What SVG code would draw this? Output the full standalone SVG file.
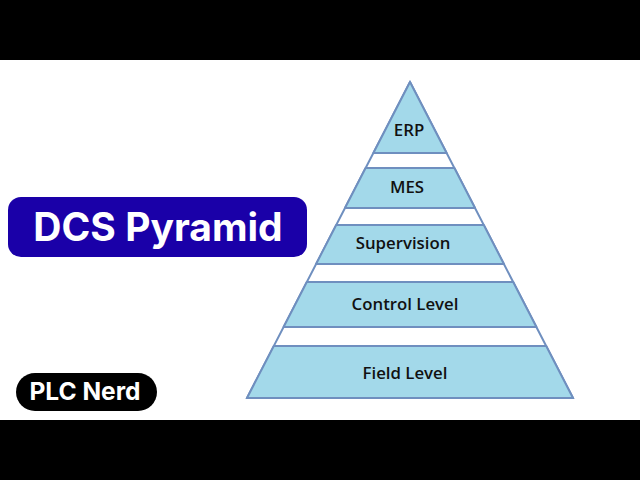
<svg xmlns="http://www.w3.org/2000/svg" width="640" height="480" viewBox="0 0 640 480">
<style>
.layer{fill:#a3d9ea;stroke:#6f8fbf;stroke-width:2;stroke-linejoin:round}
.gap{fill:#ffffff;stroke:#6f8fbf;stroke-width:2}
.lbl{font-family:"Open Sans","Liberation Sans",sans-serif;font-weight:600;font-size:16.8px;fill:#111;text-anchor:middle}
</style>
<rect x="0" y="0" width="640" height="480" fill="#ffffff"/>
<rect x="0" y="0" width="640" height="60" fill="#000"/>
<rect x="0" y="420" width="640" height="60" fill="#000"/>
<polygon class="gap" points="410,82 573,398 247,398"/>
<g id="erp">
<polygon class="layer" points="410,82 446.6,153 373.4,153"/>
<text class="lbl" x="409" y="136">ERP</text>
</g>
<g id="mes">
<polygon class="layer" points="365.6,168 454.4,168 475,208 345,208"/>
<text class="lbl" x="407" y="193">MES</text>
</g>
<g id="supervision">
<polygon class="layer" points="336.2,225 483.8,225 503.9,264 316.1,264"/>
<text class="lbl" x="403" y="249">Supervision</text>
</g>
<g id="control">
<polygon class="layer" points="306.8,282 513.2,282 536.4,327 283.6,327"/>
<text class="lbl" x="405" y="310">Control Level</text>
</g>
<g id="field">
<polygon class="layer" points="273.8,346 546.2,346 573,398 247,398"/>
<text class="lbl" x="405" y="379">Field Level</text>
</g>
<g id="title">
<rect x="8" y="197" width="299" height="60" rx="13" fill="#1a00a8"/>
<text x="158" y="241" font-family="Inter,'Liberation Sans',sans-serif" font-weight="700" font-size="39" fill="#fff" text-anchor="middle">DCS Pyramid</text>
</g>
<g id="brand">
<rect x="16" y="373" width="141" height="38" rx="19" fill="#000"/>
<text x="85" y="400" font-family="Inter,'Liberation Sans',sans-serif" font-weight="700" font-size="24.5" fill="#fff" text-anchor="middle">PLC Nerd</text>
</g>
<g id="connectors"/>
</svg>
